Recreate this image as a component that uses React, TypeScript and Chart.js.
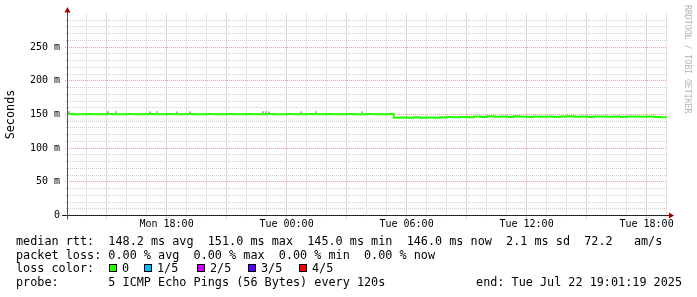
import { useEffect, useRef } from "react";
import { Chart, registerables } from "chart.js";

Chart.register(...registerables);

// ---- data (time in hours since Mon 00:00) ----
const startHour = 13 + 1 / 60 + 19 / 3600; // Mon 13:01:19
const endHour = startHour + 30; // Tue 19:01:19
const sampleMinutes = 20;

const medianRttMs = [
  150.6, 150.5, 150.5, 150.6, 150.5, 150.5, 150.6, 150.5, 150.5, 150.6,
  150.5, 150.5, 150.6, 150.5, 150.5, 150.6, 150.5, 150.5, 150.6, 150.5,
  150.5, 150.6, 150.5, 150.5, 150.6, 150.5, 150.5, 150.6, 150.5, 150.5,
  150.6, 150.5, 150.5, 150.6, 150.5, 150.5, 150.6, 150.5, 150.5, 150.6,
  150.5, 150.5, 150.6, 150.5, 150.5, 150.6, 150.5, 150.5, 150.6,
  145.0, 145.7, 145.1, 145.8, 145.0, 145.6, 145.2,
  145.8, 146.4, 145.9, 146.3, 145.8,
  146.9, 146.3, 147.3, 146.6, 147.1, 146.4, 147.3, 146.8, 146.3, 147.1,
  146.6, 147.2, 146.4, 146.9, 147.3, 146.6, 147.1, 146.3, 146.9, 147.2,
  146.6, 147.1, 146.4, 146.9, 147.2, 146.6, 146.9, 146.3, 146.0,
];

const smokeHours = [13.12, 15.07, 15.47, 17.17, 17.52, 18.52, 19.17, 22.82, 22.97, 23.12, 24.72, 25.47, 27.77];
const smokeTopMs = [153.5, 153.5, 153.5, 153.3, 153.5, 153.3, 153.3, 153.5, 153.5, 153.3, 153.3, 153.5, 153.3];

const xLabelHours = [18, 24, 30, 36, 42];
const xLabelTexts = ["Mon 18:00", "Tue 00:00", "Tue 06:00", "Tue 12:00", "Tue 18:00"];
const yLabelValues = [0, 50, 100, 150, 200, 250];
const yLabelTexts = ["0", "50 m", "100 m", "150 m", "200 m", "250 m"];

const lossLabels = ["0", "1/5", "2/5", "3/5", "4/5"];
const lossColors = ["#26ff00", "#00b8ff", "#cc00ff", "#5500ff", "#ff0000"];

const legendRows = [
  "median rtt:  148.2 ms avg  151.0 ms max  145.0 ms min  146.0 ms now  2.1 ms sd  72.2   am/s",
  "packet loss: 0.00 % avg  0.00 % max  0.00 % min  0.00 % now",
  "loss color:",
  "probe:       5 ICMP Echo Pings (56 Bytes) every 120s",
];
const endStamp = "end: Tue Jul 22 19:01:19 2025";
const yTitle = "Seconds";
const watermark = "RRDTOOL / TOBI OETIKER";

// ---- style ----
const MONO = '"DejaVu Sans Mono", monospace';
const W = 697;
const H = 297;
const LEGEND_FONT = `11.8px ${MONO}`;
const lossBoxX = [109, 144, 197, 248, 299];
const rowBaselines = [245, 259, 272, 286];
const MINOR = "#cdcdcd";
const MAJOR = "#e2a0a0";

const gridPlugin = {
  id: "rrdGrid",
  beforeDatasetsDraw(chart: any) {
    const { ctx, chartArea: a, scales } = chart;
    const xs = scales.x;
    const ys = scales.y;
    ctx.save();
    ctx.lineWidth = 1;
    ctx.setLineDash([1, 1]);
    for (let h = Math.ceil(xs.min); h <= xs.max; h++) {
      const x = Math.floor(xs.getPixelForValue(h)) + 0.5;
      const major = h % 3 === 0;
      ctx.strokeStyle = major ? MAJOR : MINOR;
      ctx.beginPath();
      ctx.moveTo(x, a.top);
      ctx.lineTo(x, a.bottom + (major ? 3 : 1));
      ctx.stroke();
    }
    for (let v = 10; v < ys.max; v += 10) {
      const y = Math.floor(ys.getPixelForValue(v)) + 0.5;
      const major = v % 50 === 0;
      ctx.strokeStyle = major ? MAJOR : MINOR;
      ctx.beginPath();
      ctx.moveTo(a.left - (major ? 2 : 1), y);
      ctx.lineTo(a.right, y);
      ctx.stroke();
    }
    ctx.restore();
  },
};

const overlay = {
  id: "rrdOverlay",
  afterDraw(chart: any) {
    const { ctx, chartArea: a } = chart;
    const y0 = Math.floor(a.bottom) + 0.5;
    const x0 = Math.floor(a.left) + 0.5;
    ctx.save();
    // axes
    ctx.lineWidth = 1;
    ctx.strokeStyle = "#222";
    ctx.beginPath();
    ctx.moveTo(a.left - 5, y0);
    ctx.lineTo(a.right + 4, y0);
    ctx.stroke();
    ctx.strokeStyle = "#555";
    ctx.beginPath();
    ctx.moveTo(x0, a.bottom + 4);
    ctx.lineTo(x0, a.top - 2);
    ctx.stroke();
    // arrows
    ctx.fillStyle = "#a00000";
    ctx.beginPath();
    ctx.moveTo(a.right + 2, y0 - 3);
    ctx.lineTo(a.right + 7, y0);
    ctx.lineTo(a.right + 2, y0 + 3);
    ctx.closePath();
    ctx.fill();
    ctx.beginPath();
    ctx.moveTo(x0 - 3, a.top - 1);
    ctx.lineTo(x0, a.top - 6.5);
    ctx.lineTo(x0 + 3, a.top - 1);
    ctx.closePath();
    ctx.fill();

    // y title
    ctx.fillStyle = "#000";
    ctx.font = LEGEND_FONT;
    ctx.save();
    ctx.translate(14, (a.top + a.bottom) / 2);
    ctx.rotate(-Math.PI / 2);
    ctx.textAlign = "center";
    ctx.textBaseline = "alphabetic";
    ctx.fillText(yTitle, 0, 0);
    ctx.restore();

    // watermark
    ctx.save();
    ctx.fillStyle = "#b4b4b4";
    ctx.font = `8.2px ${MONO}`;
    ctx.translate(685, 5);
    ctx.rotate(Math.PI / 2);
    ctx.textAlign = "left";
    ctx.textBaseline = "alphabetic";
    ctx.fillText(watermark, 0, 0);
    ctx.restore();

    // legend rows
    ctx.font = LEGEND_FONT;
    ctx.textAlign = "left";
    ctx.textBaseline = "alphabetic";
    ctx.fillStyle = "#000";
    legendRows.forEach((t, i) => ctx.fillText(t, 16, rowBaselines[i]));
    ctx.textAlign = "right";
    ctx.fillText(endStamp, 682, rowBaselines[3]);
    ctx.textAlign = "left";
    const by = rowBaselines[2];
    lossLabels.forEach((lbl, i) => {
      const bx = lossBoxX[i];
      ctx.fillStyle = lossColors[i];
      ctx.fillRect(bx, by - 8, 8, 8);
      ctx.strokeStyle = "#000";
      ctx.strokeRect(bx + 0.5, by - 7.5, 7, 7);
      ctx.fillStyle = "#000";
      ctx.fillText(lbl, bx + 13, by);
    });
    ctx.restore();
  },
};

export default function App() {
  const ref = useRef<HTMLCanvasElement | null>(null);
  useEffect(() => {
    const canvas = ref.current;
    if (!canvas) return;
    const rttPoints = medianRttMs.map((v, i) => ({ x: startHour + (i * sampleMinutes) / 60, y: v }));
    rttPoints.push({ x: endHour, y: medianRttMs[medianRttMs.length - 1] });
    const smokePoints = smokeHours.map((h, i) => ({ x: h, y: smokeTopMs[i] }));
    const labelTicksX = xLabelHours.map((v) => ({ value: v }));
    const labelTicksY = yLabelValues.map((v) => ({ value: v }));

    const chart = new Chart(canvas, {
      type: "line",
      data: {
        datasets: [
          {
            type: "scatter",
            data: smokePoints,
            pointStyle: "rect",
            pointRadius: 1.2,
            pointBackgroundColor: "#a0a0a0",
            pointBorderWidth: 0,
            showLine: false,
            order: 2,
          } as any,
          {
            data: rttPoints,
            borderColor: lossColors[0],
            borderWidth: 2,
            stepped: true,
            pointRadius: 0,
            fill: false,
            order: 1,
          },
        ],
      },
      options: {
        animation: false,
        responsive: false,
        events: [],
        layout: { padding: { top: 13.5, right: W - 667, left: 0, bottom: 0 } },
        plugins: { legend: { display: false }, tooltip: { enabled: false } },
        scales: {
          x: {
            type: "linear",
            min: startHour,
            max: endHour,
            afterBuildTicks: (s: any) => {
              s.ticks = labelTicksX.slice();
            },
            afterFit: (s: any) => {
              s.height = H - 215.5;
            },
            grid: { display: false, drawTicks: false },
            border: { display: false },
            ticks: {
              autoSkip: false,
              maxRotation: 0,
              padding: 3,
              color: "#000",
              font: { family: MONO, size: 10 },
              callback: (v: any) => {
                const i = xLabelHours.indexOf(Number(v));
                return i >= 0 ? xLabelTexts[i] : "";
              },
            },
          },
          y: {
            type: "linear",
            min: 0,
            max: 300,
            afterBuildTicks: (s: any) => {
              s.ticks = labelTicksY.slice();
            },
            afterFit: (s: any) => {
              s.width = 67;
            },
            grid: { display: false, drawTicks: false },
            border: { display: false },
            ticks: {
              autoSkip: false,
              padding: 7,
              color: "#000",
              font: { family: MONO, size: 10 },
              callback: (v: any) => {
                const i = yLabelValues.indexOf(Number(v));
                return i >= 0 ? yLabelTexts[i] : "";
              },
            },
          },
        },
      },
      plugins: [gridPlugin, overlay],
    });
    return () => chart.destroy();
  }, []);

  return (
    <div style={{ position: "fixed", left: 0, top: 0, width: W, height: H, background: "#fff" }}>
      <canvas ref={ref} width={W} height={H} style={{ display: "block", width: W, height: H }} />
    </div>
  );
}
